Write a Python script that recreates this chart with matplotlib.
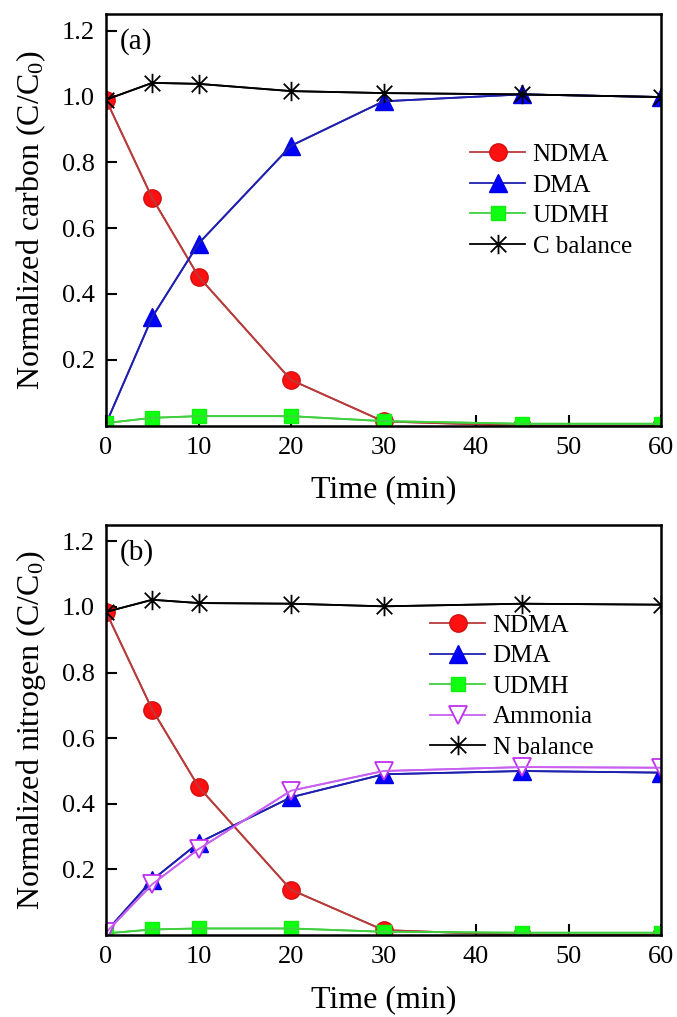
import numpy as np
import matplotlib
matplotlib.use("Agg")
import matplotlib.pyplot as plt
from matplotlib.path import Path


plt.rcParams['font.family'] = ['Liberation Serif', 'DejaVu Serif']
plt.rcParams['mathtext.fontset'] = 'custom'
plt.rcParams['mathtext.rm'] = 'Liberation Serif'
plt.rcParams['mathtext.it'] = 'Liberation Serif:italic'

# Sampling times (min)
time_min = [0, 5, 10, 20, 30, 45, 60]

# (a) normalized carbon
c_ndma = [0.99, 0.691, 0.453, 0.139, 0.013, 0.0, 0.0]
c_dma = [0.006, 0.330, 0.553, 0.850, 0.985, 1.006, 0.998]
c_udmh = [0.008, 0.024, 0.029, 0.029, 0.014, 0.006, 0.006]
c_balance = [0.990, 1.041, 1.038, 1.016, 1.010, 1.006, 0.998]

# (b) normalized nitrogen
n_ndma = [0.985, 0.687, 0.452, 0.138, 0.015, 0.0, 0.0]
n_dma = [0.010, 0.168, 0.281, 0.420, 0.490, 0.500, 0.495]
n_udmh = [0.005, 0.017, 0.020, 0.020, 0.010, 0.007, 0.007]
n_ammonia = [0.008, 0.155, 0.262, 0.440, 0.500, 0.512, 0.510]
n_balance = [0.985, 1.022, 1.012, 1.010, 1.002, 1.010, 1.007]

x_ticks = [0, 10, 20, 30, 40, 50, 60]
y_ticks = [0.2, 0.4, 0.6, 0.8, 1.0, 1.2]

# Asterisk with a vertical bar and two diagonals
star_path = Path(
    [(0, -1), (0, 1), (-0.8, -0.8), (0.8, 0.8), (-0.8, 0.8), (0.8, -0.8)],
    [Path.MOVETO, Path.LINETO, Path.MOVETO, Path.LINETO, Path.MOVETO, Path.LINETO],
)

styles = {
    'NDMA': dict(color='#b83a3a', marker='o', markerfacecolor='#ff1010',
                 markeredgecolor='#d01010', markersize=12.5),
    'DMA': dict(color='#2020b0', marker='^', markerfacecolor='#0000ff',
                markeredgecolor='#0000e0', markersize=12.5),
    'UDMH': dict(color='#40d040', marker='s', markerfacecolor='#10ff10',
                 markeredgecolor='#10f010', markersize=10),
    'Ammonia': dict(color='#c860f0', marker='v', markerfacecolor='white',
                    markeredgecolor='#c030f0', markersize=12.5, markeredgewidth=1.3),
    'balance': dict(color='black', marker=star_path, markerfacecolor='none',
                    markeredgecolor='black', markersize=14, markeredgewidth=1.3),
}


def draw_series(ax, series):
    for label, values, key in series:
        ax.plot(time_min, values, linewidth=1.3, label=label, **styles[key])
        # connecting line goes over the symbols
        ax.plot(time_min, values, linewidth=1.3, color=styles[key]['color'])


def style_axes(ax, y_label, tag):
    ax.set_xlim(0, 60)
    ax.set_ylim(0, 1.25)
    ax.set_xticks(x_ticks)
    ax.set_yticks(y_ticks)
    ax.set_yticklabels(['%.1f' % v for v in y_ticks])
    ax.tick_params(direction='in', length=8, width=1.5, labelsize=19, pad=8)
    for spine in ax.spines.values():
        spine.set_linewidth(1.8)
    ax.set_xlabel('Time (min)', fontsize=23, labelpad=12)
    ax.set_ylabel(y_label, fontsize=23, labelpad=10)
    ax.text(0.025, 0.965, tag, transform=ax.transAxes, fontsize=21,
            ha='left', va='top')


def add_legend(ax, anchor):
    ax.legend(loc='upper left', bbox_to_anchor=anchor, frameon=False,
              fontsize=18, borderpad=0, borderaxespad=0, labelspacing=0.32,
              handlelength=2.2, handletextpad=0.3)


fig = plt.figure(figsize=(6.77, 10.17), dpi=100)
ax_c = fig.add_axes([0.1566, 0.5814, 0.8198, 0.4048])
ax_n = fig.add_axes([0.1566, 0.0806, 0.8198, 0.4032])

# Carbon panel
draw_series(ax_c, [('NDMA', c_ndma, 'NDMA'), ('DMA', c_dma, 'DMA'),
                   ('UDMH', c_udmh, 'UDMH'), ('C balance', c_balance, 'balance')])
style_axes(ax_c, 'Normalized carbon (C/C$_\\mathregular{0}$)', '(a)')
add_legend(ax_c, (0.656, 0.685))

# Nitrogen panel
draw_series(ax_n, [('NDMA', n_ndma, 'NDMA'), ('DMA', n_dma, 'DMA'),
                   ('UDMH', n_udmh, 'UDMH'), ('Ammonia', n_ammonia, 'Ammonia'),
                   ('N balance', n_balance, 'balance')])
style_axes(ax_n, 'Normalized nitrogen (C/C$_\\mathregular{0}$)', '(b)')
add_legend(ax_n, (0.584, 0.782))

fig.savefig('out.png', dpi=100)
